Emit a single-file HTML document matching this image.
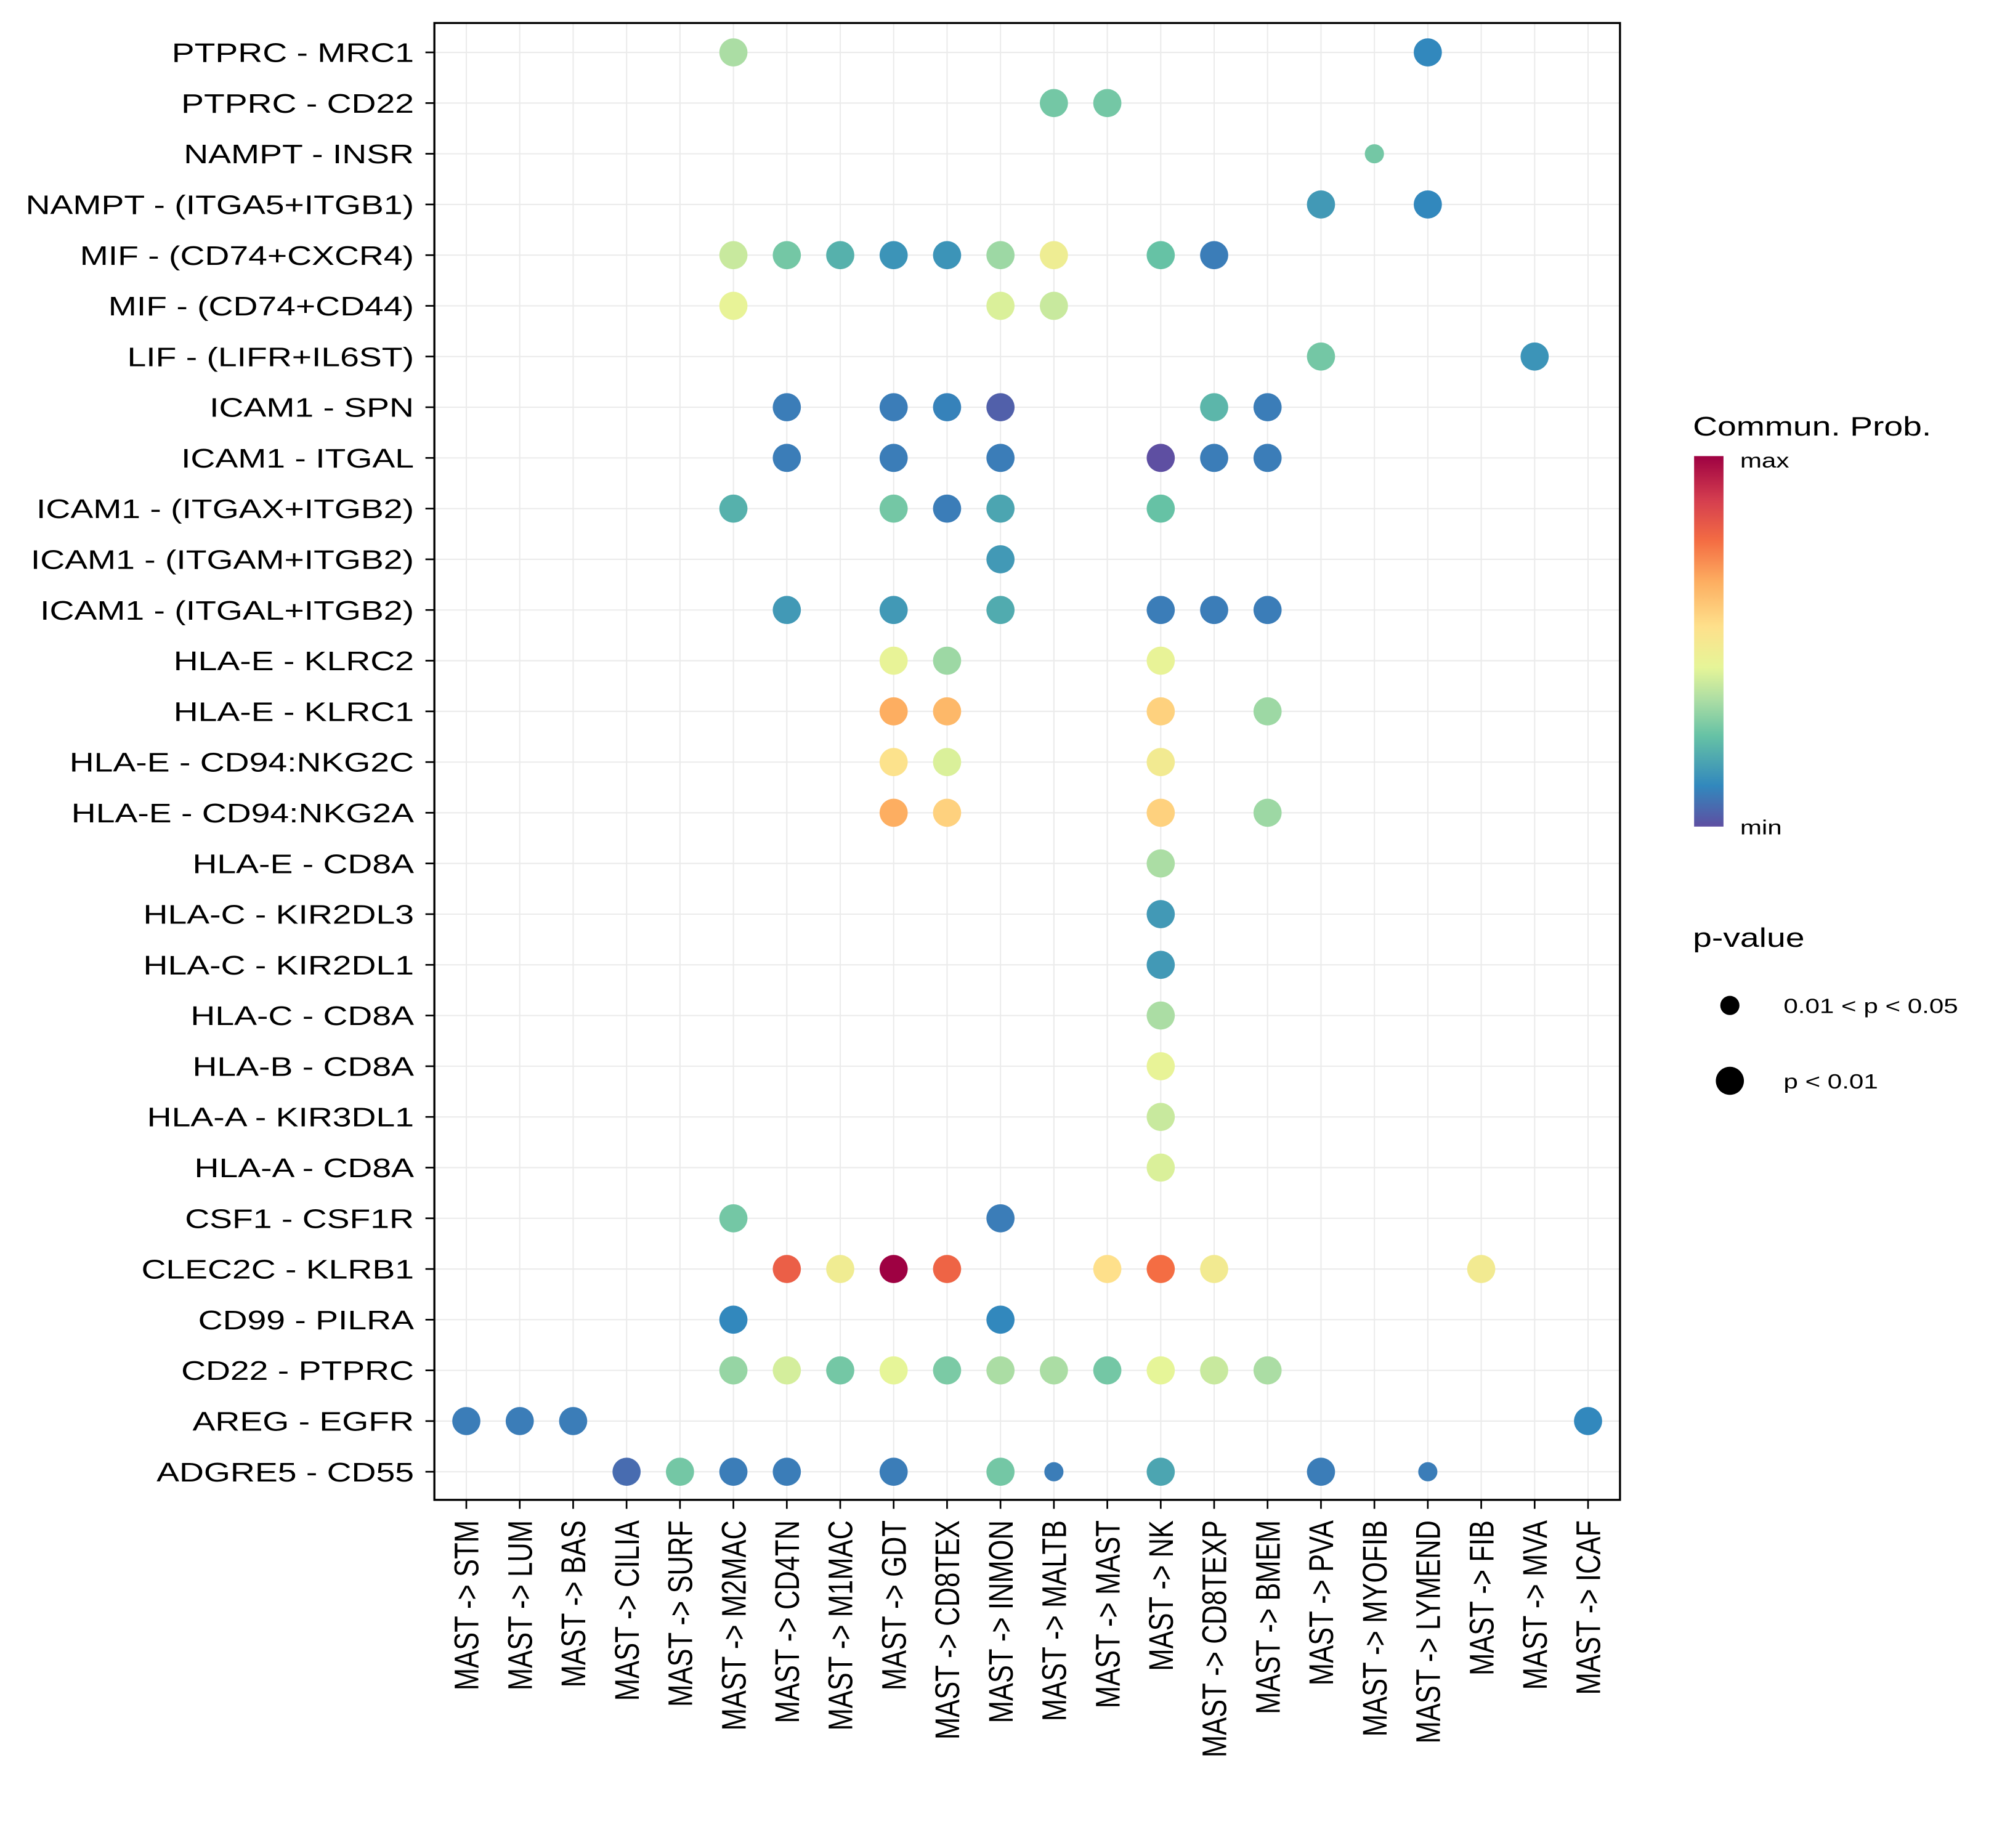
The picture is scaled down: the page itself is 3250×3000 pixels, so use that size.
<!DOCTYPE html>
<html><head><meta charset="utf-8"><style>html,body{margin:0;padding:0;background:#fff}svg{display:block}text{font-family:"Liberation Sans",Arial,sans-serif}</style></head>
<body>
<svg id="chart" width="3250" height="3000" viewBox="0 0 1567 1446.5" preserveAspectRatio="none" xmlns="http://www.w3.org/2000/svg">
<rect width="1567" height="1447" fill="#fff"/>
<g id="grid"></g>
<g id="dots"></g>
<rect x="340" y="18" width="928" height="1156" fill="none" stroke="#000" stroke-width="1.6"/>
<g id="yaxis"></g>
<g id="xaxis"></g>
<g>
<text font-size="21" transform="translate(1325,341) scale(1.27,1)">Commun. Prob.</text>
<defs><linearGradient id="cg" x1="0" y1="1" x2="0" y2="0">
<stop offset="0" stop-color="#5E4FA2"/><stop offset="0.11" stop-color="#3288BD"/><stop offset="0.245" stop-color="#66C2A5"/><stop offset="0.34" stop-color="#ABDDA4"/><stop offset="0.43" stop-color="#E6F598"/><stop offset="0.54" stop-color="#FEE08B"/><stop offset="0.66" stop-color="#FDAE61"/><stop offset="0.77" stop-color="#F46D43"/><stop offset="0.88" stop-color="#D53E4F"/><stop offset="1" stop-color="#9E0142"/></linearGradient></defs>
<rect x="1326" y="357" width="23" height="290" fill="url(#cg)"/>
<text font-size="16" transform="translate(1362,366) scale(1.27,1)">max</text>
<text font-size="16" transform="translate(1362,653) scale(1.27,1)">min</text>
</g>
<g>
<text font-size="21" transform="translate(1325,741) scale(1.27,1)">p-value</text>
<circle cx="1354" cy="787" r="7.5" fill="#000"/>
<text font-size="16" transform="translate(1396,793) scale(1.27,1)">0.01 &lt; p &lt; 0.05</text>
<circle cx="1354" cy="846" r="11" fill="#000"/>
<text font-size="16" transform="translate(1396,852) scale(1.27,1)">p &lt; 0.01</text>
</g>
</svg>
<script>
const columns = ["MAST -> STM","MAST -> LUM","MAST -> BAS","MAST -> CILIA","MAST -> SURF","MAST -> M2MAC","MAST -> CD4TN","MAST -> M1MAC","MAST -> GDT","MAST -> CD8TEX","MAST -> INMON","MAST -> MALTB","MAST -> MAST","MAST -> NK","MAST -> CD8TEXP","MAST -> BMEM","MAST -> PVA","MAST -> MYOFIB","MAST -> LYMEND","MAST -> FIB","MAST -> MVA","MAST -> ICAF"];
const rows = ["PTPRC - MRC1","PTPRC - CD22","NAMPT - INSR","NAMPT - (ITGA5+ITGB1)","MIF - (CD74+CXCR4)","MIF - (CD74+CD44)","LIF - (LIFR+IL6ST)","ICAM1 - SPN","ICAM1 - ITGAL","ICAM1 - (ITGAX+ITGB2)","ICAM1 - (ITGAM+ITGB2)","ICAM1 - (ITGAL+ITGB2)","HLA-E - KLRC2","HLA-E - KLRC1","HLA-E - CD94:NKG2C","HLA-E - CD94:NKG2A","HLA-E - CD8A","HLA-C - KIR2DL3","HLA-C - KIR2DL1","HLA-C - CD8A","HLA-B - CD8A","HLA-A - KIR3DL1","HLA-A - CD8A","CSF1 - CSF1R","CLEC2C - KLRB1","CD99 - PILRA","CD22 - PTPRC","AREG - EGFR","ADGRE5 - CD55"];
const dotRow = [0,0,1,1,2,3,3,4,4,4,4,4,4,4,4,4,5,5,5,6,6,7,7,7,7,7,7,8,8,8,8,8,8,9,9,9,9,9,10,11,11,11,11,11,11,12,12,12,13,13,13,13,14,14,14,15,15,15,15,16,17,18,19,20,21,22,23,23,24,24,24,24,24,24,24,24,25,25,26,26,26,26,26,26,26,26,26,26,26,27,27,27,27,28,28,28,28,28,28,28,28,28,28];
const dotCol = [5,18,11,12,17,16,18,5,6,7,8,9,10,11,13,14,5,10,11,16,20,6,8,9,10,14,15,6,8,10,13,14,15,5,8,9,10,13,10,6,8,10,13,14,15,8,9,13,8,9,13,15,8,9,13,8,9,13,15,13,13,13,13,13,13,13,5,10,6,7,8,9,12,13,14,19,5,10,5,6,7,8,9,10,11,12,13,14,15,0,1,2,21,3,4,5,6,8,10,11,13,16,18];
const dotProb = [0.3,0.1,0.22,0.22,0.22,0.13,0.1,0.35,0.22,0.17,0.12,0.12,0.28,0.47,0.2,0.08,0.42,0.38,0.35,0.22,0.12,0.08,0.08,0.09,0.03,0.18,0.08,0.08,0.08,0.08,0.0,0.08,0.08,0.17,0.22,0.08,0.15,0.2,0.13,0.13,0.13,0.16,0.08,0.08,0.08,0.42,0.28,0.42,0.7,0.68,0.63,0.28,0.58,0.38,0.5,0.7,0.63,0.63,0.28,0.3,0.13,0.13,0.3,0.42,0.35,0.38,0.22,0.08,0.83,0.48,1.0,0.82,0.6,0.8,0.5,0.5,0.1,0.1,0.27,0.37,0.22,0.4,0.23,0.3,0.3,0.22,0.4,0.35,0.3,0.08,0.08,0.08,0.1,0.05,0.22,0.08,0.08,0.08,0.22,0.08,0.15,0.08,0.08];
const dotSig = [1,1,1,1,0,1,1,1,1,1,1,1,1,1,1,1,1,1,1,1,1,1,1,1,1,1,1,1,1,1,1,1,1,1,1,1,1,1,1,1,1,1,1,1,1,1,1,1,1,1,1,1,1,1,1,1,1,1,1,1,1,1,1,1,1,1,1,1,1,1,1,1,1,1,1,1,1,1,1,1,1,1,1,1,1,1,1,1,1,1,1,1,1,1,1,1,1,1,1,0,1,1,0];

const NS="http://www.w3.org/2000/svg";
const X0=365, XSTEP=(1243-365)/21, Y0=41, YSTEP=(1152-41)/28;
function xs(i){return X0+i*XSTEP;}
function ys(i){return Y0+i*YSTEP;}
const stops=[[0,[94,79,162]],[0.1,[50,136,189]],[0.2,[102,194,165]],[0.3,[171,221,164]],[0.4,[230,245,152]],[0.5,[242,234,145]],[0.6,[254,224,139]],[0.7,[253,174,97]],[0.8,[244,109,67]],[0.9,[213,62,79]],[1,[158,1,66]]];
function color(v){for(let i=1;i<stops.length;i++){if(v<=stops[i][0]){const a=stops[i-1],b=stops[i],t=(v-a[0])/(b[0]-a[0]);return "rgb("+a[1].map((c,k)=>Math.round(c+(b[1][k]-c)*t)).join(",")+")";}}return "rgb(158,1,66)";}
function mk(tag,attrs,parent){const e=document.createElementNS(NS,tag);for(const k in attrs)e.setAttribute(k,attrs[k]);parent.appendChild(e);return e;}
const grid=document.getElementById("grid"),dots=document.getElementById("dots"),ya=document.getElementById("yaxis"),xa=document.getElementById("xaxis");
for(let i=0;i<columns.length;i++){
  const l=mk("line",{x1:xs(i),x2:xs(i),y1:18,y2:1174,stroke:"#EBEBEB","stroke-width":1},grid);
  
  
  const t=mk("line",{x1:xs(i),x2:xs(i),y1:1174,y2:1181,stroke:"#000","stroke-width":1.3},xa);
  
  
  const tx=mk("text",{x:0,y:0,"font-size":21,"text-anchor":"end",transform:"translate("+(xs(i)+9.5)+",1190) scale(1.27,1) rotate(-90)"},xa);
  tx.textContent=columns[i];
  
  
}
for(let j=0;j<rows.length;j++){
  const l=mk("line",{x1:340,x2:1268,y1:ys(j),y2:ys(j),stroke:"#EBEBEB","stroke-width":1},grid);
  
  
  const t=mk("line",{x1:333,x2:340,y1:ys(j),y2:ys(j),stroke:"#000","stroke-width":1.3},ya);
  
  
  const tx=mk("text",{x:0,y:0,"font-size":21,"text-anchor":"end",transform:"translate(324,"+(ys(j)+7.5)+") scale(1.27,1)"},ya);
  tx.textContent=rows[j];
  
  
}
for(let k=0;k<dotRow.length;k++){
  const c=mk("circle",{cx:xs(dotCol[k]),cy:ys(dotRow[k]),r:dotSig[k]?11:7.5,fill:color(dotProb[k])},dots);
  
  
}
</script>
</body></html>
